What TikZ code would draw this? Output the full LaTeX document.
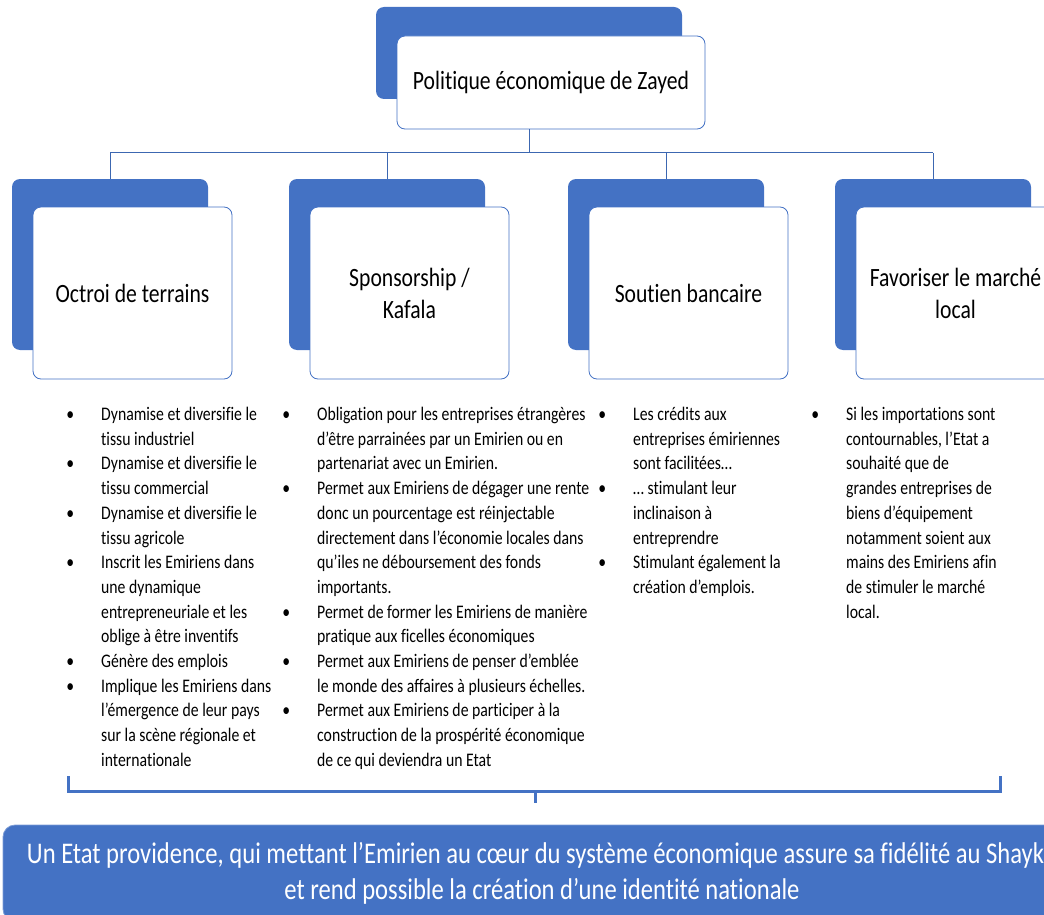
\documentclass[tikz,border=0pt]{standalone}
\usepackage{fontspec}
\setmainfont[FakeStretch=0.82, RawFeature=-liga]{Carlito}
\definecolor{sablue}{HTML}{4472C4}
\definecolor{lineblue}{HTML}{3C67B1}
\newcommand\bp{\leavevmode\llap{\textbullet\hskip 27pt}}
\begin{document}
\begin{tikzpicture}[x=1pt,y=-1pt,
  backbox/.style={fill=sablue, rounded corners=8pt, inner sep=0pt},
  frontbox/.style={fill=white, draw=sablue, line width=0.8pt, rounded corners=8pt, inner sep=0pt},
  head/.style={font=\fontsize{26.4pt}{32pt}\selectfont, align=center, text=black},
  bultext/.style={font=\fontsize{19.2pt}{24.7pt}\selectfont, anchor=base west, inner sep=0pt, text=black},
  conn/.style={draw=lineblue, line width=1pt},
  bracket/.style={draw=sablue, line width=3pt},
  bottombox/.style={fill=sablue, draw=sablue!70!white, line width=0.8pt, rounded corners=12pt, inner sep=0pt,
    text=white, align=center, font=\fontsize{30pt}{36pt}\selectfont}]
\useasboundingbox (0,0) rectangle (1044,915);
\clip (0,0) rectangle (1044,915);
% top
\node[backbox, minimum width=306pt, minimum height=92pt] (tb) at (529,53) {};
\node[frontbox, head, minimum width=308pt, minimum height=93pt] (tf) at (551,82.5) {Politique économique de Zayed};
% columns
\node[backbox, minimum width=196pt, minimum height=171pt] (b1) at (110,264.5) {};
\node[frontbox, head, minimum width=199pt, minimum height=172pt] (f1) at (132.5,293) {Octroi de terrains};
\node[backbox, minimum width=196pt, minimum height=171pt] (b2) at (387,264.5) {};
\node[frontbox, head, minimum width=199pt, minimum height=172pt] (f2) at (409.5,293) {Sponsorship /\\Kafala};
\node[backbox, minimum width=196pt, minimum height=171pt] (b3) at (666,264.5) {};
\node[frontbox, head, minimum width=199pt, minimum height=172pt] (f3) at (688.5,293) {Soutien bancaire};
\node[backbox, minimum width=196pt, minimum height=171pt] (b4) at (933,264.5) {};
\node[frontbox, head, minimum width=199pt, minimum height=172pt] (f4) at (955.5,293) {Favoriser le marché\\local};
% connectors
\coordinate (bus) at (0,153);
\draw[conn] (tb.center |- tf.south) -- (tb.center |- bus);
\draw[conn] (b1.north |- bus) -- (b4.north |- bus);
\draw[conn] (b1.north |- bus) -- (b1.north);
\draw[conn] (b2.north |- bus) -- (b2.north);
\draw[conn] (b3.north |- bus) -- (b3.north);
\draw[conn] (b4.north |- bus) -- (b4.north);
% bullet texts
\node[bultext] (t1) at (101,420.5) {\parbox[t]{200pt}{%
\bp Dynamise et diversifie le\\
tissu industriel\\
\bp Dynamise et diversifie le\\
tissu commercial\\
\bp Dynamise et diversifie le\\
tissu agricole\\
\bp Inscrit les Emiriens dans\\
une dynamique\\
entrepreneuriale et les\\
oblige à être inventifs\\
\bp Génère des emplois\\
\bp Implique les Emiriens dans\\
l’émergence de leur pays\\
sur la scène régionale et\\
internationale}};
\node[bultext] (t2) at (317,420.5) {\parbox[t]{300pt}{%
\bp Obligation pour les entreprises étrangères\\
d’être parrainées par un Emirien ou en\\
partenariat avec un Emirien.\\
\bp Permet aux Emiriens de dégager une rente\\
donc un pourcentage est réinjectable\\
directement dans l’économie locales dans\\
qu’iles ne déboursement des fonds\\
importants.\\
\bp Permet de former les Emiriens de manière\\
pratique aux ficelles économiques\\
\bp Permet aux Emiriens de penser d’emblée\\
le monde des affaires à plusieurs échelles.\\
\bp Permet aux Emiriens de participer à la\\
construction de la prospérité économique\\
de ce qui deviendra un Etat}};
\node[bultext] (t3) at (633,420.5) {\parbox[t]{200pt}{%
\bp Les crédits aux\\
entreprises émiriennes\\
sont facilitées…\\
\bp … stimulant leur\\
inclinaison à\\
entreprendre\\
\bp Stimulant également la\\
création d’emplois.}};
\node[bultext] (t4) at (846,420.5) {\parbox[t]{190pt}{%
\bp Si les importations sont\\
contournables, l’Etat a\\
souhaité que de\\
grandes entreprises de\\
biens d’équipement\\
notamment soient aux\\
mains des Emiriens afin\\
de stimuler le marché\\
local.}};
% bracket
\coordinate (bl) at (68,776);
\coordinate (br) at (1000,776);
\coordinate (bm) at (535,791);
\coordinate (bt) at (535,803);
\draw[bracket] (bl) -- (bl |- bm) -- (br |- bm) -- (br);
\draw[bracket] (bm) -- (bt);
% bottom
\node[bottombox, minimum width=1078pt, minimum height=96pt] (bot) at (542,873)
  {Un Etat providence, qui mettant l’Emirien au cœur du système économique assure sa fidélité au Shaykh\\
   et rend possible la création d’une identité nationale};
\end{tikzpicture}
\end{document}
